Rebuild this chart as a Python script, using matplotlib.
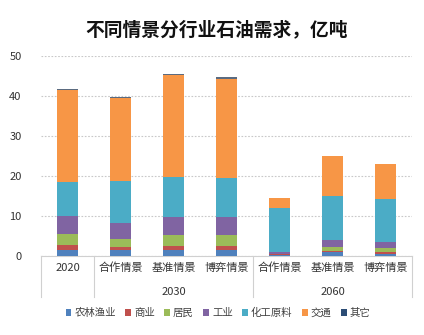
import matplotlib
matplotlib.use("Agg")
import matplotlib.pyplot as plt
from matplotlib.patches import Patch
from matplotlib.lines import Line2D
import matplotlib.transforms as mtransforms
import numpy as np

plt.rcParams['font.family'] = ['Noto Sans CJK SC', 'DejaVu Sans']

categories = ["2020", "合作情景", "基准情景", "博弈情景", "合作情景", "基准情景", "博弈情景"]
groups = ["2030", "2060"]
series_names = ["农林渔业", "商业", "居民", "工业", "化工原料", "交通", "其它"]
agri = [1.6, 1.5, 1.5, 1.4, 0.3, 0.9, 0.6]
commerce = [1.1, 0.8, 1.1, 1.2, 0.1, 0.4, 0.5]
residential = [2.7, 1.9, 2.6, 2.6, 0.1, 1.0, 1.0]
industry = [4.7, 4.1, 4.5, 4.5, 0.4, 1.6, 1.3]
chemical = [8.5, 10.4, 10.0, 9.9, 11.2, 11.0, 10.9]
transport = [22.8, 20.8, 25.5, 24.7, 2.3, 10.0, 8.6]
other = [0.3, 0.2, 0.3, 0.35, 0.05, 0.1, 0.1]
yticks = [0, 10, 20, 30, 40, 50]

series = [agri, commerce, residential, industry, chemical, transport, other]
colors = ["#4F81BD", "#C0504D", "#9BBB59", "#8064A2", "#4BACC6", "#F79646", "#2C4D75"]
bar_colors = colors[:-1] + ["#5B6B80"]

fig = plt.figure(figsize=(4.24, 3.35), dpi=100)
ax = fig.add_axes([41/424, 1-256/335, (412-41)/424, 200/335])

x = np.arange(len(categories))
bottom = np.zeros(len(categories))
for vals, c, n in zip(series, bar_colors, series_names):
    ax.bar(x, vals, bottom=bottom, width=0.41, color=c, label=n, zorder=3)
    bottom += np.array(vals)

ax.set_xlim(-0.5, len(categories)-0.5)
ax.set_ylim(0, 50)
ax.set_yticks(yticks)
ax.set_yticklabels([str(t) for t in yticks], fontsize=8, color="#333333")
ax.tick_params(axis='y', length=0, pad=14)
ax.tick_params(axis='x', length=0, labelbottom=False)
ax.grid(axis='y', linestyle=(0, (1.5, 1.5)), color="#C8C8C8", linewidth=0.8, zorder=0)
for s in ['top', 'right', 'left']:
    ax.spines[s].set_visible(False)
ax.spines['bottom'].set_color("#D0D0D0")
ax.spines['bottom'].set_linewidth(0.8)

trans = mtransforms.blended_transform_factory(ax.transData, ax.transAxes)
for xi, lab in zip(x, categories):
    ax.text(xi, -0.06, lab, transform=trans, ha='center', va='center',
            fontsize=8, color="#333333")
ax.text(2, -0.178, groups[0], transform=trans, ha='center', va='center',
        fontsize=8, color="#333333")
ax.text(5, -0.178, groups[1], transform=trans, ha='center', va='center',
        fontsize=8, color="#333333")
for xv in [-0.5, 0.5, 3.5, 6.5]:
    ax.add_line(Line2D([xv, xv], [0, -0.205], transform=trans, color="#D0D0D0",
                       linewidth=0.8, clip_on=False))

fig.text(217/424, 1-30/335, "不同情景分行业石油需求，亿吨", ha='center', va='center',
         fontsize=13.5, fontweight='bold', color="#111111")

handles = [Patch(facecolor=c, edgecolor='none') for c in colors]
leg = fig.legend(handles, series_names, loc='center', bbox_to_anchor=(218/424, 1-313/335),
                 ncol=7, frameon=False, fontsize=7.5, handlelength=0.55, handleheight=0.55,
                 handletextpad=0.3, columnspacing=0.9, borderaxespad=0)
for t in leg.get_texts():
    t.set_color("#404040")

fig.savefig("out.png", dpi=100)
